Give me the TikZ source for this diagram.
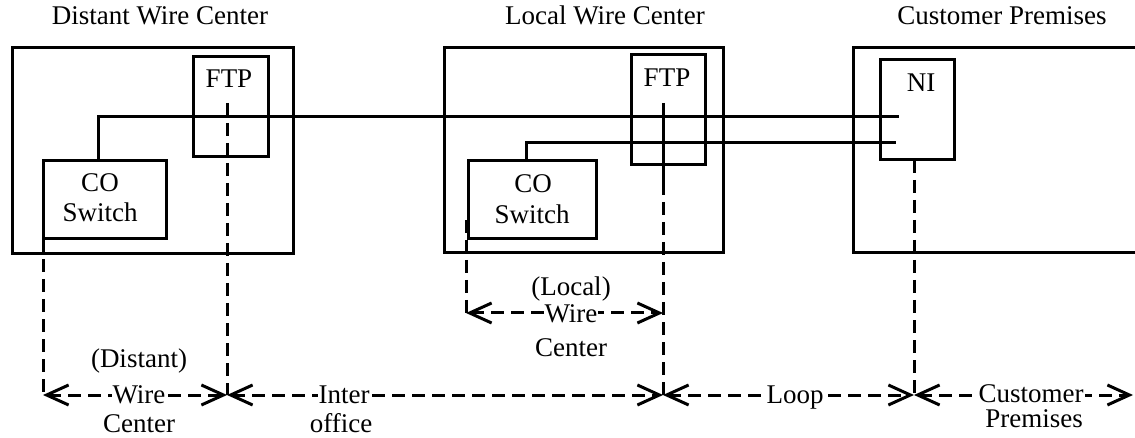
\documentclass[tikz,border=0pt]{standalone}
\usepackage{fontspec}
\setmainfont{Liberation Serif}
\usetikzlibrary{arrows.meta}
\begin{document}
\begin{tikzpicture}[x=1pt,y=-1pt,line width=3pt,
  font=\fontsize{27}{30}\selectfont,
  >={Straight Barb[length=22pt,width=20pt]},
  box/.style={draw,rectangle,outer sep=0pt,inner sep=0pt},
  txt/.style={anchor=base,inner sep=0pt},
  lbl/.style={txt,fill=white,inner xsep=1pt},
  dashline/.style={dash pattern=on 13pt off 7pt}]
\useasboundingbox (0,0) rectangle (1135,438);
\clip (0,0) rectangle (1135,438);
% titles
\node[txt] (t1) at (160,25) {Distant Wire Center};
\node[txt] (t2) at (605,25) {Local Wire Center};
\node[txt] (t3) at (1002,25) {Customer Premises};
% boxes
\node[box,minimum width=281pt,minimum height=206pt] (dwc) at (152.5,151) {};
\node[box,minimum width=75pt,minimum height=100pt] (ftp1) at (230.5,107) {};
\node[box,minimum width=123pt,minimum height=78pt] (co1) at (104.5,200) {};
\node[box,minimum width=279pt,minimum height=205pt] (lwc) at (583.5,150.5) {};
\node[box,minimum width=74pt,minimum height=110pt] (ftp2) at (668,110) {};
\node[box,minimum width=128pt,minimum height=78pt] (co2) at (532,200) {};
\node[box,minimum width=317pt,minimum height=205pt] (cpb) at (1011.5,150.5) {};
\node[box,minimum width=74pt,minimum height=100pt] (ni) at (917,110) {};
% box texts
\node[txt] (ftp1t) at (229,88) {FTP};
\node[txt] (ftp2t) at (667,87) {FTP};
\node[txt] (nit) at (921,92) {NI};
\node[txt] (co1a) at (100,192) {CO};
\node[txt] (co1b) at (100,222) {Switch};
\node[txt] (co2a) at (533,193) {CO};
\node[txt] (co2b) at (532,224) {Switch};
% coordinates
\coordinate (niA) at (899,117);
\coordinate (niB) at (896,143);
\coordinate (f1top) at (227,103);
\coordinate (f2top) at (663,103);
\coordinate (f2mid) at (663,182);
\coordinate (c2top) at (466,220);
\coordinate (d0) at (43,395);
\coordinate (d1) at (227,395);
\coordinate (d2) at (663,395);
\coordinate (d3) at (914,395);
\coordinate (d4) at (1133,395);
\coordinate (l0) at (466,313);
\coordinate (l1) at (663,313);
% wires
\draw ([xshift=-6.5pt]co1.north) |- (niA);
\draw ([xshift=-6pt]co2.north) |- (niB);
\draw (f2top) -- (f2mid);
% dashed verticals
\draw[dashline] (f1top) -- (d1);
\draw[dashline] (co1.south west) -- (d0);
\draw[dashline] (f2mid) -- (d2);
\draw[dashline] (c2top) -- (l0);
\draw[dashline] ([xshift=-3pt]ni.south) -- (d3);
% dimension arrows
\draw[dashline,<->] (d0) -- (d1);
\draw[dashline,<->] (d1) -- (d2);
\draw[dashline,<->] (d2) -- (d3);
\draw[dashline,<->] (d3) -- (d4);
\draw[dashline,<->] (l0) -- (l1);
% labels
\node[txt] (dwa) at (139,367) {(Distant)};
\node[lbl] (dwb) at (139,403) {Wire};
\node[txt] (dwc2) at (139,432) {Center};
\node[lbl] (ioa) at (344,403) {Inter};
\node[txt] (iob) at (341,432) {office};
\node[txt] (lwa) at (571,296) {(Local)};
\node[lbl] (lwb) at (571,323) {Wire};
\node[txt] (lwc2) at (571,356) {Center};
\node[lbl] (lp) at (795,403) {Loop};
\node[lbl] (cpa) at (1031,402) {Customer};
\node[txt] (cpb2) at (1034,427) {Premises};
\end{tikzpicture}
\end{document}
